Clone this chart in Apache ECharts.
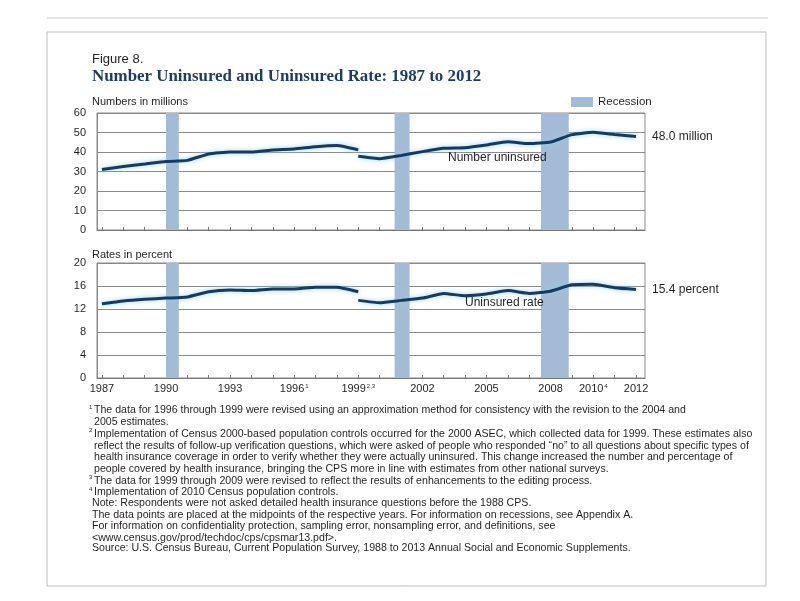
<!DOCTYPE html>
<html><head><meta charset="utf-8">
<script src="https://cdn.jsdelivr.net/npm/echarts@6/dist/echarts.min.js"></script>
<style>html,body{margin:0;padding:0;background:#fff}#c{width:800px;height:601px}</style>
</head><body><div id="c"></div>
<script>
// ---- data ----
const yearsPre = [1987,1988,1989,1990,1991,1992,1993,1994,1995,1996,1997,1998,1999];
const yearsPost = [1999,2000,2001,2002,2003,2004,2005,2006,2007,2008,2009,2010,2011,2012];
const numberPre = [31.0,32.6,33.8,35.1,35.7,39.0,40.0,40.0,41.0,41.5,42.7,43.3,41.1];
const numberPost = [37.8,36.6,38.2,40.2,41.9,42.2,43.6,45.3,44.3,45.1,48.9,50.1,49.0,48.0];
const ratePre = [12.9,13.4,13.7,13.9,14.1,15.0,15.3,15.2,15.5,15.5,15.8,15.8,15.0];
const ratePost = [13.5,13.1,13.5,13.9,14.7,14.3,14.6,15.2,14.7,15.1,16.2,16.3,15.7,15.4];
const recessions = [[1990.0,1990.6],[2000.7,2001.4],[2007.55,2008.85]];
const tickYears = [1987,1990,1993,1996,1999,2002,2005,2008,2010,2012];
const tickSups  = ['','','','1','2,3','','','','4',''];
const allYears = [1987,1988,1989,1990,1991,1992,1993,1994,1995,1996,1997,1998,1999,2000,2001,2002,2003,2004,2005,2006,2007,2008,2009,2010,2011,2012];
const numberTicks = [0,10,20,30,40,50,60];
const rateTicks = [0,4,8,12,16,20];
const footnotes = [
  ['1','The data for 1996 through 1999 were revised using an approximation method for consistency with the revision to the 2004 and'],
  ['','2005 estimates.'],
  ['2','Implementation of Census 2000-based population controls occurred for the 2000 ASEC, which collected data for 1999. These estimates also'],
  ['','reflect the results of follow-up verification questions, which were asked of people who responded \u201cno\u201d to all questions about specific types of'],
  ['','health insurance coverage in order to verify whether they were actually uninsured. This change increased the number and percentage of'],
  ['','people covered by health insurance, bringing the CPS more in line with estimates from other national surveys.'],
  ['3','The data for 1999 through 2009 were revised to reflect the results of enhancements to the editing process.'],
  ['4','Implementation of 2010 Census population controls.']
];
const notes = [
  'Note: Respondents were not asked detailed health insurance questions before the 1988 CPS.',
  'The data points are placed at the midpoints of the respective years. For information on recessions, see Appendix A.',
  'For information on confidentiality protection, sampling error, nonsampling error, and definitions, see',
  '<www.census.gov/prod/techdoc/cps/cpsmar13.pdf>.'
];
const source = 'Source: U.S. Census Bureau, Current Population Survey, 1988 to 2013 Annual Social and Economic Supplements.';

// ---- chart ----
const FONT = "'Liberation Sans', Arial, sans-serif";
const NARROW = "'Liberation Sans Narrow', 'Liberation Sans', Arial, sans-serif";
const TXT = '#231f20';
const LINE = '#173a5e';
const REC = '#a3bbd6';
const GRIDC = '#8a8a8a';
const XMIN = 1986.77, XMAX = 2012.42;

const chart = echarts.init(document.getElementById('c'), null, {renderer: 'canvas'});

function xAxis(idx, showLabels) {
  return {
    type: 'value', gridIndex: idx, min: XMIN, max: XMAX,
    axisLine: {show: true, onZero: false, lineStyle: {color: '#777', width: 1}},
    axisTick: {show: true, inside: true, length: 3, customValues: allYears, lineStyle: {color: '#777'}},
    splitLine: {show: false},
    axisLabel: {
      show: showLabels, customValues: tickYears, margin: 5, fontFamily: FONT, fontSize: 11, color: TXT,
      formatter: function (v) {
        const i = tickYears.indexOf(Math.round(v));
        const s = i >= 0 ? tickSups[i] : '';
        return s ? Math.round(v) + '{sup|' + s + '}' : String(Math.round(v));
      },
      rich: {sup: {fontSize: 6, verticalAlign: 'top', padding: [0, 0, 6, 1], fontFamily: FONT, color: TXT}}
    }
  };
}
function yAxis(idx, max, interval) {
  return {
    type: 'value', gridIndex: idx, min: 0, max: max, interval: interval,
    axisLine: {show: true, lineStyle: {color: GRIDC}},
    axisTick: {show: false},
    splitLine: {show: true, lineStyle: {color: GRIDC, width: 1}},
    axisLabel: {fontFamily: FONT, fontSize: 11, color: TXT, margin: 11}
  };
}
function lineSeries(xi, years, vals, endLbl) {
  const s = {
    type: 'line', xAxisIndex: xi, yAxisIndex: xi,
    data: years.map((y, i) => [y, vals[i]]),
    showSymbol: false, symbol: 'none', smooth: 0.15,
    lineStyle: {color: LINE, width: 3, shadowColor: '#8fd3f4', shadowBlur: 5},
    z: 5
  };
  if (endLbl) {
    s.endLabel = {show: true, distance: 16, fontFamily: FONT, fontSize: 12, color: TXT,
      formatter: p => p.value[1].toFixed(1) + endLbl};
  }
  return s;
}
function recSeries(xi) {
  return {
    type: 'line', xAxisIndex: xi, yAxisIndex: xi, data: [], silent: true,
    markArea: {silent: true, itemStyle: {color: REC, opacity: 1},
      data: recessions.map(r => [{xAxis: r[0]}, {xAxis: r[1]}])},
    z: 1
  };
}

const graphics = [
  {type: 'line', shape: {x1: 47, y1: 18, x2: 768, y2: 18}, style: {stroke: '#c8c8c8', lineWidth: 1}},
  {type: 'rect', shape: {x: 47, y: 32, width: 719, height: 554}, style: {fill: 'none', stroke: '#bdbdbd', lineWidth: 1}},
  {type: 'text', left: 92, top: 53, style: {text: 'Figure 8.', font: "13px " + FONT, fill: TXT}},
  {type: 'text', left: 92, top: 68, style: {text: 'Number Uninsured and Uninsured Rate: 1987 to 2012', font: "bold 16.9px 'Liberation Serif', serif", fill: '#1c3c63'}},
  {type: 'text', left: 92, top: 96, style: {text: 'Numbers in millions', font: "11px " + FONT, fill: TXT}},
  {type: 'text', left: 92, top: 249, style: {text: 'Rates in percent', font: "11px " + FONT, fill: TXT}},
  {type: 'rect', shape: {x: 571, y: 97, width: 22, height: 10}, style: {fill: REC}},
  {type: 'text', left: 598, top: 96, style: {text: 'Recession', font: "11.5px " + FONT, fill: TXT}},
  {type: 'text', left: 448, top: 152, z: 10, style: {text: 'Number uninsured', font: "12px " + FONT, fill: TXT}},
  {type: 'text', left: 465, top: 297, z: 10, style: {text: 'Uninsured rate', font: "12px " + FONT, fill: TXT}}
];
let fy = 405;
footnotes.forEach(f => {
  if (f[0]) graphics.push({type: 'text', left: 89, top: fy - 1, style: {text: f[0], font: "6px " + FONT, fill: TXT}});
  graphics.push({type: 'text', left: 94, top: fy, style: {text: f[1], font: "10.6px " + NARROW, fill: TXT}});
  fy += 11.7;
});
fy = 498;
notes.forEach(t => {
  graphics.push({type: 'text', left: 92, top: fy, style: {text: t, font: "10.6px " + NARROW, fill: TXT}});
  fy += 11.5;
});
graphics.push({type: 'text', left: 92, top: 543, style: {text: source, font: "10.6px " + NARROW, fill: TXT}});

chart.setOption({
  animation: false,
  backgroundColor: '#fff',
  grid: [
    {left: 97, right: 155, top: 113, height: 117, show: true, borderColor: GRIDC, borderWidth: 1, backgroundColor: 'transparent'},
    {left: 97, right: 155, top: 263, height: 115, show: true, borderColor: GRIDC, borderWidth: 1, backgroundColor: 'transparent'}
  ],
  xAxis: [xAxis(0, false), xAxis(1, true)],
  yAxis: [yAxis(0, numberTicks[numberTicks.length - 1], numberTicks[1] - numberTicks[0]),
          yAxis(1, rateTicks[rateTicks.length - 1], rateTicks[1] - rateTicks[0])],
  series: [
    recSeries(0), recSeries(1),
    lineSeries(0, yearsPre, numberPre, null),
    lineSeries(0, yearsPost, numberPost, ' million'),
    lineSeries(1, yearsPre, ratePre, null),
    lineSeries(1, yearsPost, ratePost, ' percent')
  ],
  graphic: graphics
});
</script>
</body></html>
